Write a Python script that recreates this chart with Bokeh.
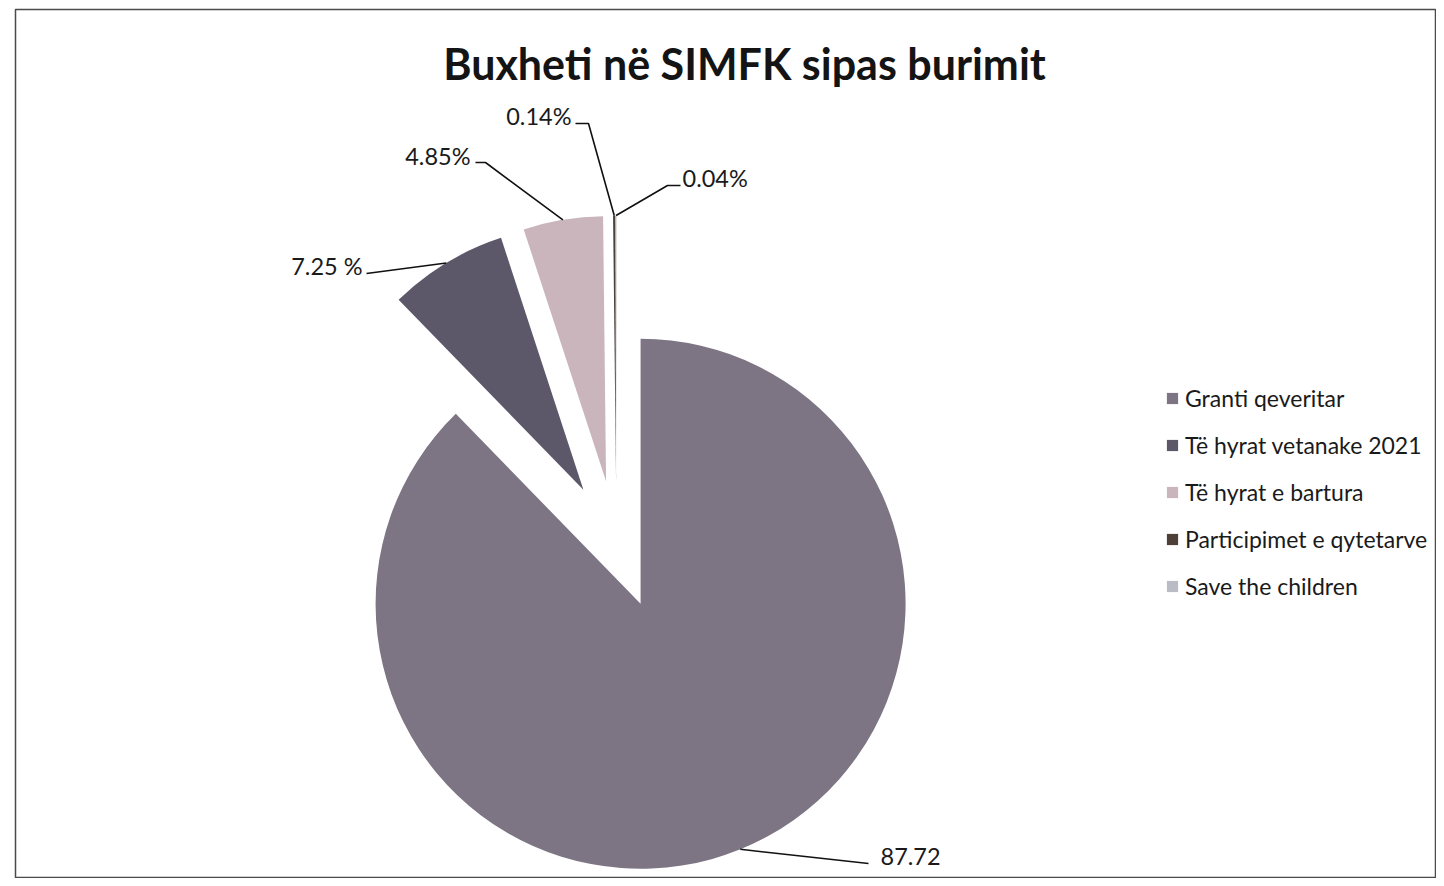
import numpy as np
from bokeh.plotting import figure
from bokeh.models import ColumnDataSource, Legend, LegendItem, Range1d
from bokeh.core.properties import value
from bokeh.embed import file_html
from bokeh.resources import INLINE

# ---------------- data ----------------
title_text = "Buxheti në SIMFK sipas burimit"
categories = ["Granti qeveritar", "Të hyrat vetanake 2021", "Të hyrat e bartura",
              "Participimet e qytetarve", "Save the children"]
shares = [87.72, 7.25, 4.85, 0.14, 0.04]
label_texts = ["87.72", "7.25 %", "4.85%", "0.14%", "0.04%"]
colors = ["#7d7484", "#5c5769", "#c9b5bb", "#4e4038", "#b9bcc4"]

# ---------------- layout ----------------
W, H = 1436, 878
BL, BT = 15, 9
FW, FH = W - BL, H - BT


def dx(x):  # screen px -> data x
    return x - BL


def dy(y):  # screen px -> data y
    return H - y


CX, CY = dx(616), dy(544)
R = 265
EXPLODE = 64
FONT = "Lato"

vals = np.array(shares, dtype=float)
cum = np.concatenate([[0.0], np.cumsum(vals)]) / vals.sum() * 2 * np.pi
t0, t1 = cum[:-1], cum[1:]
mid = (t0 + t1) / 2
cx = CX + EXPLODE * np.sin(mid)
cy = CY + EXPLODE * np.cos(mid)
arc_x = cx + R * np.sin(mid)
arc_y = cy + R * np.cos(mid)

src = ColumnDataSource(dict(
    x=cx, y=cy, start=np.pi / 2 - t1, end=np.pi / 2 - t0,
    color=colors, cat=categories))

p = figure(width=W, height=H, output_backend="svg", toolbar_location=None,
           x_range=Range1d(0, FW), y_range=Range1d(0, FH),
           min_border_left=BL, min_border_top=BT, min_border_right=0, min_border_bottom=0)
p.axis.visible = False
p.grid.visible = False
p.outline_line_color = "#4a4a4a"
p.outline_line_width = 1.5
p.background_fill_color = "white"
p.border_fill_color = "white"

wr = p.wedge(x="x", y="y", radius=R, start_angle="start", end_angle="end",
             direction="anticlock", fill_color="color", line_color=None, source=src)

# leader lines (arc midpoint -> elbows near label)
elbows = [
    [(868, 863)],
    [(366, 273)],
    [(485, 162), (475, 162)],
    [(588, 123), (575, 123)],
    [(667, 185), (680, 185)],
]
xs, ys = [], []
for i, el in enumerate(elbows):
    xs.append([arc_x[i]] + [dx(e[0]) for e in el])
    ys.append([arc_y[i]] + [dy(e[1]) for e in el])
p.multi_line(xs=xs, ys=ys, line_color="#111111", line_width=1.6)

label_pos = [(880, 856, "left"), (362, 265, "right"), (470, 155, "right"),
             (571, 115, "right"), (682, 177, "left")]
lsrc = ColumnDataSource(dict(
    x=[dx(a) for a, b, c in label_pos], y=[dy(b) for a, b, c in label_pos],
    align=[c for a, b, c in label_pos], text=label_texts))
p.text(x="x", y="y", text="text", text_align="align", text_baseline="middle",
       text_font=value(FONT), text_font_size="23.5px", text_color="#1a1a1a", source=lsrc)

# title
p.text(x=[dx(744)], y=[dy(63)], text=[title_text], text_align="center",
       text_baseline="middle", text_font=value(FONT), text_font_style="bold",
       text_font_size="43px", text_color="#141414")

legend = Legend(items=[LegendItem(label=c, renderers=[wr], index=i) for i, c in enumerate(categories)],
                location=(1150, 277), orientation="vertical")
legend.label_text_font = FONT
legend.label_text_font_size = "23px"
legend.label_text_color = "#1a1a1a"
legend.glyph_width = 14
legend.glyph_height = 14
legend.label_height = 30
legend.label_standoff = 6
legend.spacing = 17
legend.padding = 0
legend.margin = 0
legend.border_line_alpha = 0
legend.background_fill_alpha = 0
p.add_layout(legend)

open("out.html", "w").write(file_html(p, INLINE))
